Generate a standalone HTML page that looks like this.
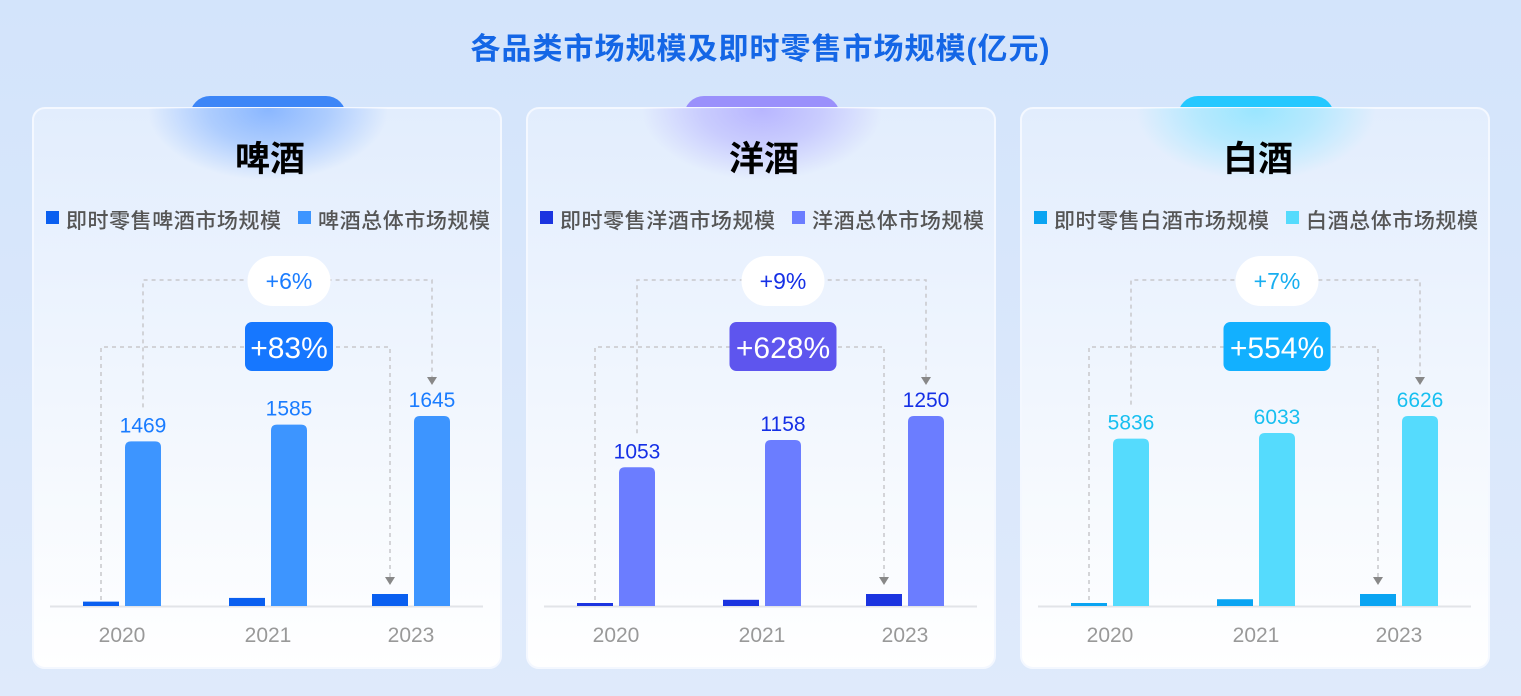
<!DOCTYPE html>
<html><head><meta charset="utf-8">
<style>
html,body{margin:0;padding:0}
body{width:1521px;height:696px;overflow:hidden;background:linear-gradient(180deg,#d3e4fb 0%,#dfeafb 100%);font-family:"Liberation Sans","Noto Sans CJK SC",sans-serif;position:relative}
#title{position:absolute;left:0;width:1521px;top:24px;text-align:center;font-size:30px;font-weight:bold;color:#1466e6;letter-spacing:1px}
svg{position:absolute;left:0;top:0}
</style></head>
<body>
<div id="title">各品类市场规模及即时零售市场规模(亿元)</div>
<svg id="s" width="1521" height="696"></svg>
<script>
const panelNames = ["啤酒","洋酒","白酒"];
const years = ["2020","2021","2023"];
const totalBeer = [1469,1585,1645];
const totalYang = [1053,1158,1250];
const totalBai = [5836,6033,6626];
const retailBeer = [38,70,104];
const retailYang = [12,45,87];
const retailBai = [65,240,425];
const growthTotal = ["+6%","+9%","+7%"];
const growthRetail = ["+83%","+628%","+554%"];
const legendRetail = ["即时零售啤酒市场规模","即时零售洋酒市场规模","即时零售白酒市场规模"];
const legendTotal = ["啤酒总体市场规模","洋酒总体市场规模","白酒总体市场规模"];
const axisMin = [330,520,0];
const totals=[totalBeer,totalYang,totalBai], retails=[retailBeer,retailYang,retailBai];
const themes=[
 {tab:"#3d86f7",glow:"#8ab7ff",small:"#0a5ff0",big:"#3d95ff",label:"#1a7cff",box:"#1677ff",pill:"#1a7cff"},
 {tab:"#9a90fb",glow:"#b8b6ff",small:"#1b34e0",big:"#6b7dff",label:"#1530e6",box:"#5e55ee",pill:"#1530e6"},
 {tab:"#25c8ff",glow:"#9ae6ff",small:"#0aa4f2",big:"#55dbfd",label:"#17bff0",box:"#12b0ff",pill:"#17aef0"}];
const NS="http://www.w3.org/2000/svg";
const svg=document.getElementById('s');
function el(t,a,p){const e=document.createElementNS(NS,t);for(const k in a)e.setAttribute(k,a[k]);(p||svg).appendChild(e);return e;}
const defs=el('defs',{});
const BASE=606, H=190;
panelNames.forEach((nm,pi)=>{
  const ox=pi*494, t=themes[pi];
  const g=el('g',{});
  
  
  const lg=el('linearGradient',{id:'pg'+pi,x1:0,y1:0,x2:0,y2:1},defs);
  el('stop',{offset:0,'stop-color':'#e2edfd'},lg);el('stop',{offset:1,'stop-color':'#ffffff'},lg);
  const rg=el('radialGradient',{id:'gl'+pi,cx:.5,cy:.5,r:.5},defs);
  el('stop',{offset:0,'stop-color':t.glow,'stop-opacity':1},rg);el('stop',{offset:.5,'stop-color':t.glow,'stop-opacity':.6},rg);el('stop',{offset:1,'stop-color':t.glow,'stop-opacity':0},rg);
  const cp=el('clipPath',{id:'cp'+pi},defs);
  el('rect',{x:ox+33,y:108,width:468,height:560,rx:12},cp);
  const tab=el('rect',{x:ox+190,y:96,width:156,height:40,rx:20,fill:t.tab},g);
  
  el('rect',{x:ox+33,y:108,width:468,height:560,rx:12,fill:'url(#pg'+pi+')',stroke:'#f4f8ff','stroke-width':2},g);
  el('ellipse',{cx:ox+268,cy:110,rx:120,ry:70,fill:'url(#gl'+pi+')','clip-path':'url(#cp'+pi+')'},g);
  const ti=el('text',{x:ox+270,y:171,'text-anchor':'middle','font-size':35,'font-weight':'bold',fill:'#000'},g);ti.textContent=nm;
  
  const l1=el('g',{},g);
  el('rect',{x:ox+46,y:211,width:13,height:13,fill:t.small},l1);
  const lt1=el('text',{x:ox+66,y:228,'font-size':21,'font-weight':500,fill:'#555',textLength:215},l1);lt1.textContent=legendRetail[pi];
  const l2=el('g',{},g);
  el('rect',{x:ox+298,y:211,width:13,height:13,fill:t.big},l2);
  const lt2=el('text',{x:ox+318,y:228,'font-size':21,'font-weight':500,fill:'#555',textLength:172},l2);lt2.textContent=legendTotal[pi];
  const ax=el('line',{x1:ox+50,y1:BASE+0.5,x2:ox+483,y2:BASE+0.5,stroke:'#e2e4e8','stroke-width':2},g);
  
  const tv=totals[pi], rv=retails[pi];
  const tmax=Math.max(...tv), d0=axisMin[pi], rmax=Math.max(...rv);
  const yT=v=>BASE-(v-d0)/(tmax-d0)*H;
  const yR=v=>BASE-Math.max(3,v/rmax*12);
  const cx=[ox+122,ox+268,ox+411];
  const smallX=i=>cx[i]-39, bigX=i=>cx[i]+3;
  const labelY=[];
  years.forEach((yr,i)=>{
    const sy=yR(rv[i]);
    const sb=el('rect',{x:smallX(i),y:sy,width:36,height:BASE-sy,fill:t.small},g);
    
    const by=yT(tv[i]);
    const bb=el('path',{d:`M${bigX(i)},${BASE} V${by+6} Q${bigX(i)},${by} ${bigX(i)+6},${by} H${bigX(i)+30} Q${bigX(i)+36},${by} ${bigX(i)+36},${by+6} V${BASE} Z`,fill:t.big},g);
    
    const vl=el('text',{x:bigX(i)+18,y:by-9,'text-anchor':'middle','font-size':21,fill:t.label},g);vl.textContent=tv[i];
    
    labelY.push(by-16);
    const xl=el('text',{x:cx[i],y:642,'text-anchor':'middle','font-size':21,fill:'#999'},g);xl.textContent=yr;
    
  });
  const dash={fill:'none',stroke:'#c8c8cc','stroke-width':1.5,'stroke-dasharray':'4 4'};
  const x1=bigX(0)+18, x2=bigX(2)+18;
  el('path',Object.assign({d:`M${x1},${labelY[0]-18} V280 H${x2} V${labelY[2]-22}`},dash),g);
  el('path',{d:`M${x2-5},${labelY[2]-23} h10 l-5,8 z`,fill:'#888'},g);
  const s1=smallX(0)+18, s2=smallX(2)+18, sy2=yR(rv[2]);
  el('path',Object.assign({d:`M${s1},${BASE-6} V347 H${s2} V${sy2-16}`},dash),g);
  el('path',{d:`M${s2-5},${sy2-17} h10 l-5,8 z`,fill:'#888'},g);
  const pw=growthTotal[pi].length*15+38;
  const p=el('g',{},g);
  el('rect',{x:ox+289-pw/2,y:256,width:pw,height:50,rx:25,fill:'#fff'},p);
  const pt=el('text',{x:ox+289,y:289,'text-anchor':'middle','font-size':23,fill:t.pill},p);pt.textContent=growthTotal[pi];
  const bw=growthRetail[pi].length*19+12;
  const b=el('g',{},g);
  el('rect',{x:ox+289-bw/2,y:322,width:bw,height:49,rx:7,fill:t.box},b);
  const bt=el('text',{x:ox+289,y:358,'text-anchor':'middle','font-size':30,fill:'#fff'},b);bt.textContent=growthRetail[pi];
});
</script>
</body></html>
